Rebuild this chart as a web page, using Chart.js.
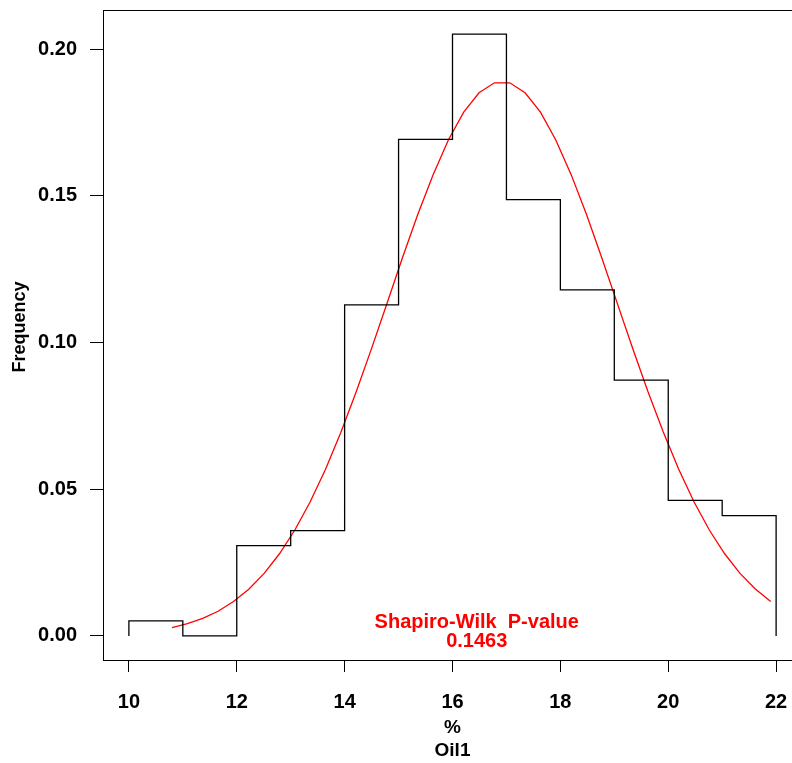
<!DOCTYPE html>
<html>
<head>
<meta charset="utf-8">
<script src="https://cdn.jsdelivr.net/npm/chart.js@4.4.1/dist/chart.umd.min.js"></script>
<style>
  html, body { margin: 0; padding: 0; background: #fff; overflow: hidden; }
  #wrap { width: 812px; height: 763px; }
</style>
</head>
<body>
<div id="wrap"><canvas id="c" width="812" height="763"></canvas></div>
<script>
// Histogram of Oil1 (%) as density, bin width 1
const binEdges = [10, 11, 12, 13, 14, 15, 16, 17, 18, 19, 20, 21, 22];
const binDensity = [0.0051, 0.0000, 0.0308, 0.0359, 0.1128, 0.1692, 0.2051, 0.1487, 0.1179, 0.0872, 0.0462, 0.0410];

// Fitted normal density curve
const curveX = [10.800, 11.085, 11.369, 11.654, 11.939, 12.223, 12.508, 12.792, 13.077, 13.362,
                13.646, 13.931, 14.215, 14.500, 14.785, 15.069, 15.354, 15.639, 15.923, 16.208,
                16.492, 16.777, 17.062, 17.346, 17.631, 17.915, 18.200, 18.485, 18.769, 19.054,
                19.338, 19.623, 19.908, 20.192, 20.477, 20.762, 21.046, 21.331, 21.615, 21.900];
const curveY = [0.0028, 0.0042, 0.0060, 0.0084, 0.0117, 0.0159, 0.0213, 0.0280, 0.0361, 0.0457,
                0.0568, 0.0694, 0.0832, 0.0980, 0.1133, 0.1287, 0.1435, 0.1571, 0.1690, 0.1785,
                0.1851, 0.1885, 0.1885, 0.1851, 0.1785, 0.1690, 0.1572, 0.1436, 0.1288, 0.1134,
                0.0981, 0.0833, 0.0695, 0.0569, 0.0457, 0.0361, 0.0280, 0.0213, 0.0160, 0.0117];

const xTicks = [10, 12, 14, 16, 18, 20, 22];
const yTicks = [0.00, 0.05, 0.10, 0.15, 0.20];

const statLines = ['Shapiro-Wilk  P-value', '0.1463'];
const statX = 16.45;

// Step outline of the histogram
const histPoints = [{ x: binEdges[0], y: 0 }];
binDensity.forEach((d, i) => histPoints.push({ x: binEdges[i], y: d }));
histPoints.push({ x: binEdges[binEdges.length - 1], y: binDensity[binDensity.length - 1] });
histPoints.push({ x: binEdges[binEdges.length - 1], y: 0 });

const curvePoints = curveX.map((x, i) => ({ x: x, y: curveY[i] }));

// 4% padding around data ranges
const xPad = (binEdges[binEdges.length - 1] - binEdges[0]) * 0.04;
const yMaxData = Math.max(...binDensity);
const yPad = yMaxData * 0.04;

const FONT = '"Liberation Sans", Arial, Helvetica, sans-serif';

const boxPlugin = {
  id: 'boxAndText',
  afterDraw(chart) {
    const { ctx, scales } = chart;
    const sx = scales.x, sy = scales.y;
    // plot frame at the limits of both scales
    const l = Math.round(sx.getPixelForValue(sx.min)) + 0.5;
    const r = Math.round(sx.getPixelForValue(sx.max)) + 0.5;
    const t = Math.round(sy.getPixelForValue(sy.max)) + 0.5;
    const b = Math.round(sy.getPixelForValue(sy.min)) + 0.5;
    ctx.save();
    ctx.strokeStyle = '#000';
    ctx.lineWidth = 1;
    ctx.strokeRect(l, t, r - l, b - t);

    // Y axis title
    ctx.fillStyle = '#000';
    ctx.font = 'bold 18px ' + FONT;
    ctx.textAlign = 'center';
    ctx.textBaseline = 'middle';
    ctx.translate(20, 327);
    ctx.rotate(-Math.PI / 2);
    ctx.fillText('Frequency', 0, 0);
    ctx.restore();

    // Test statistic annotation
    ctx.save();
    ctx.fillStyle = '#ff0000';
    ctx.font = 'bold 20px ' + FONT;
    ctx.textAlign = 'center';
    ctx.textBaseline = 'alphabetic';
    const px = sx.getPixelForValue(statX);
    const py0 = sy.getPixelForValue(0);
    ctx.fillText(statLines[0], px, py0 - 8);
    ctx.fillText(statLines[1], px, py0 + 11);
    ctx.restore();
  }
};

new Chart(document.getElementById('c'), {
  type: 'line',
  data: {
    datasets: [
      {
        data: histPoints,
        borderColor: '#000',
        borderWidth: 1.3,
        stepped: 'before',
        pointRadius: 0,
        fill: false
      },
      {
        data: curvePoints,
        borderColor: '#ff0000',
        borderWidth: 1.3,
        pointRadius: 0,
        fill: false,
        tension: 0
      }
    ]
  },
  options: {
    responsive: false,
    animation: false,
    events: [],
    layout: { padding: { top: 10, right: 10, left: 0, bottom: 0 } },
    plugins: { legend: { display: false }, tooltip: { enabled: false } },
    scales: {
      x: {
        type: 'linear',
        min: binEdges[0] - xPad,
        max: binEdges[binEdges.length - 1] + xPad,
        afterFit(s) { s.height = 103; s.paddingLeft = 0; s.paddingRight = 0; },
        afterBuildTicks(s) { s.ticks = xTicks.map(v => ({ value: v })); },
        border: { display: false },
        grid: { display: true, drawOnChartArea: false, drawTicks: true, tickLength: 12, color: '#000', lineWidth: 1 },
        ticks: {
          color: '#000',
          font: { family: FONT, size: 20, weight: 'bold' },
          padding: 18,
          maxRotation: 0,
          autoSkip: false,
          callback: v => String(v)
        },
        title: {
          display: true,
          text: ['%', 'Oil1'],
          color: '#000',
          font: { family: FONT, size: 19, weight: 'bold', lineHeight: 1.25 },
          padding: { top: 0, bottom: 0 }
        }
      },
      y: {
        type: 'linear',
        min: -yPad,
        max: yMaxData + yPad,
        afterFit(s) { s.width = 103; s.paddingTop = 0; s.paddingBottom = 0; },
        afterBuildTicks(s) { s.ticks = yTicks.map(v => ({ value: v })); },
        border: { display: false },
        grid: { display: true, drawOnChartArea: false, drawTicks: true, tickLength: 13, color: '#000', lineWidth: 1 },
        ticks: {
          color: '#000',
          font: { family: FONT, size: 20, weight: 'bold' },
          padding: 13,
          autoSkip: false,
          callback: v => v.toFixed(2)
        }
      }
    }
  },
  plugins: [boxPlugin]
});
</script>
</body>
</html>
